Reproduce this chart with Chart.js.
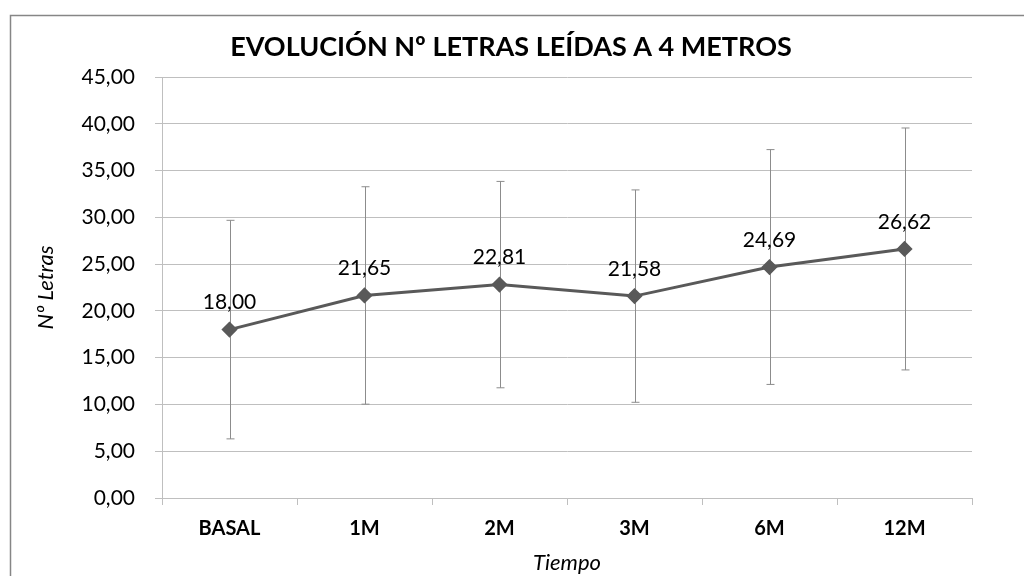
<!DOCTYPE html>
<html>
<head>
<meta charset="utf-8">
<script src="https://cdn.jsdelivr.net/npm/chart.js@4"></script>
<style>
  html, body { margin: 0; padding: 0; background: #fff; overflow: hidden; }
</style>
</head>
<body>
<canvas id="chart" width="1024" height="576"></canvas>
<script>
const categories = ['BASAL', '1M', '2M', '3M', '6M', '12M'];
const meanLetters = [18.00, 21.65, 22.81, 21.58, 24.69, 26.62];
const errorSD = [11.68, 11.62, 11.03, 11.35, 12.55, 12.93];
const yTicks = [0, 5, 10, 15, 20, 25, 30, 35, 40, 45];

const fmt = v => v.toFixed(2).replace('.', ',');
const FONT = 'Lato, "Open Sans", sans-serif';

// outer frame, like the Excel chart border; also nudge the title to the right
const framePlugin = {
  id: 'frame',
  afterLayout(chart) {
    const t = chart.titleBlock;
    if (t) { t.left += 25; t.right += 25; }
  },
  beforeDraw(chart) {
    const ctx = chart.ctx;
    ctx.save();
    ctx.strokeStyle = '#868686';
    ctx.lineWidth = 1.5;
    ctx.strokeRect(10.5, 15.5, 1030, 600);
    ctx.restore();
  }
};

// error bars (behind the line) and value labels (above the points)
const errorPlugin = {
  id: 'errorBars',
  beforeDatasetsDraw(chart) {
    const ctx = chart.ctx;
    const y = chart.scales.y;
    const meta = chart.getDatasetMeta(0);
    ctx.save();
    ctx.strokeStyle = '#8c8c8c';
    ctx.lineWidth = 1;
    meta.data.forEach((pt, i) => {
      const x = Math.round(pt.x) + 0.5;
      const top = y.getPixelForValue(meanLetters[i] + errorSD[i]);
      const bot = y.getPixelForValue(meanLetters[i] - errorSD[i]);
      ctx.beginPath();
      ctx.moveTo(x, top); ctx.lineTo(x, bot);
      ctx.moveTo(x - 4, top); ctx.lineTo(x + 4, top);
      ctx.moveTo(x - 4, bot); ctx.lineTo(x + 4, bot);
      ctx.stroke();
    });
    ctx.restore();
  },
  afterDatasetsDraw(chart) {
    const ctx = chart.ctx;
    const meta = chart.getDatasetMeta(0);
    ctx.save();
    ctx.fillStyle = '#000';
    ctx.font = '21px ' + FONT;
    ctx.textAlign = 'center';
    ctx.textBaseline = 'middle';
    meta.data.forEach((pt, i) => {
      ctx.fillText(fmt(meanLetters[i]), pt.x, pt.y - 27);
    });
    ctx.restore();
  }
};

new Chart(document.getElementById('chart'), {
  type: 'line',
  data: {
    labels: categories,
    datasets: [{
      data: meanLetters,
      borderColor: '#595959',
      borderWidth: 3,
      pointStyle: 'rectRot',
      pointRadius: 6,
      pointBackgroundColor: '#595959',
      pointBorderColor: '#595959',
      tension: 0
    }]
  },
  options: {
    responsive: false,
    animation: false,
    devicePixelRatio: 1,
    layout: { padding: { left: 0, right: 52, top: 0, bottom: 0 } },
    plugins: {
      legend: { display: false },
      tooltip: { enabled: false },
      title: {
        display: true,
        text: 'EVOLUCIÓN Nº LETRAS LEÍDAS A 4 METROS',
        color: '#000',
        font: { family: FONT, size: 27, weight: 'bold' },
        padding: { top: 31, bottom: 13.6 }
      }
    },
    scales: {
      x: {
        offset: true,
        grid: { offset: true, drawOnChartArea: false, color: '#bfbfbf', tickLength: 7 },
        border: { color: '#bfbfbf' },
        ticks: { color: '#000', font: { family: FONT, size: 20, weight: 'bold' }, padding: 12, maxRotation: 0 },
        title: {
          display: true, text: 'Tiempo', color: '#000',
          font: { family: FONT, size: 22, style: 'italic' },
          padding: { top: 0, bottom: 0 }
        },
        afterFit: s => { s.height = 78; }
      },
      y: {
        min: 0,
        max: 45,
        afterBuildTicks: s => { s.ticks = yTicks.map(v => ({ value: v })); },
        grid: { color: '#bfbfbf', tickLength: 7 },
        border: { color: '#bfbfbf' },
        ticks: { color: '#000', font: { family: FONT, size: 21 }, padding: 20, callback: v => fmt(v) },
        title: {
          display: true, text: 'Nº Letras', color: '#000',
          font: { family: FONT, size: 22, style: 'italic' },
          padding: { top: 33, bottom: 0 }
        },
        afterFit: s => { s.width = 162; }
      }
    }
  },
  plugins: [framePlugin, errorPlugin]
});
</script>
</body>
</html>
